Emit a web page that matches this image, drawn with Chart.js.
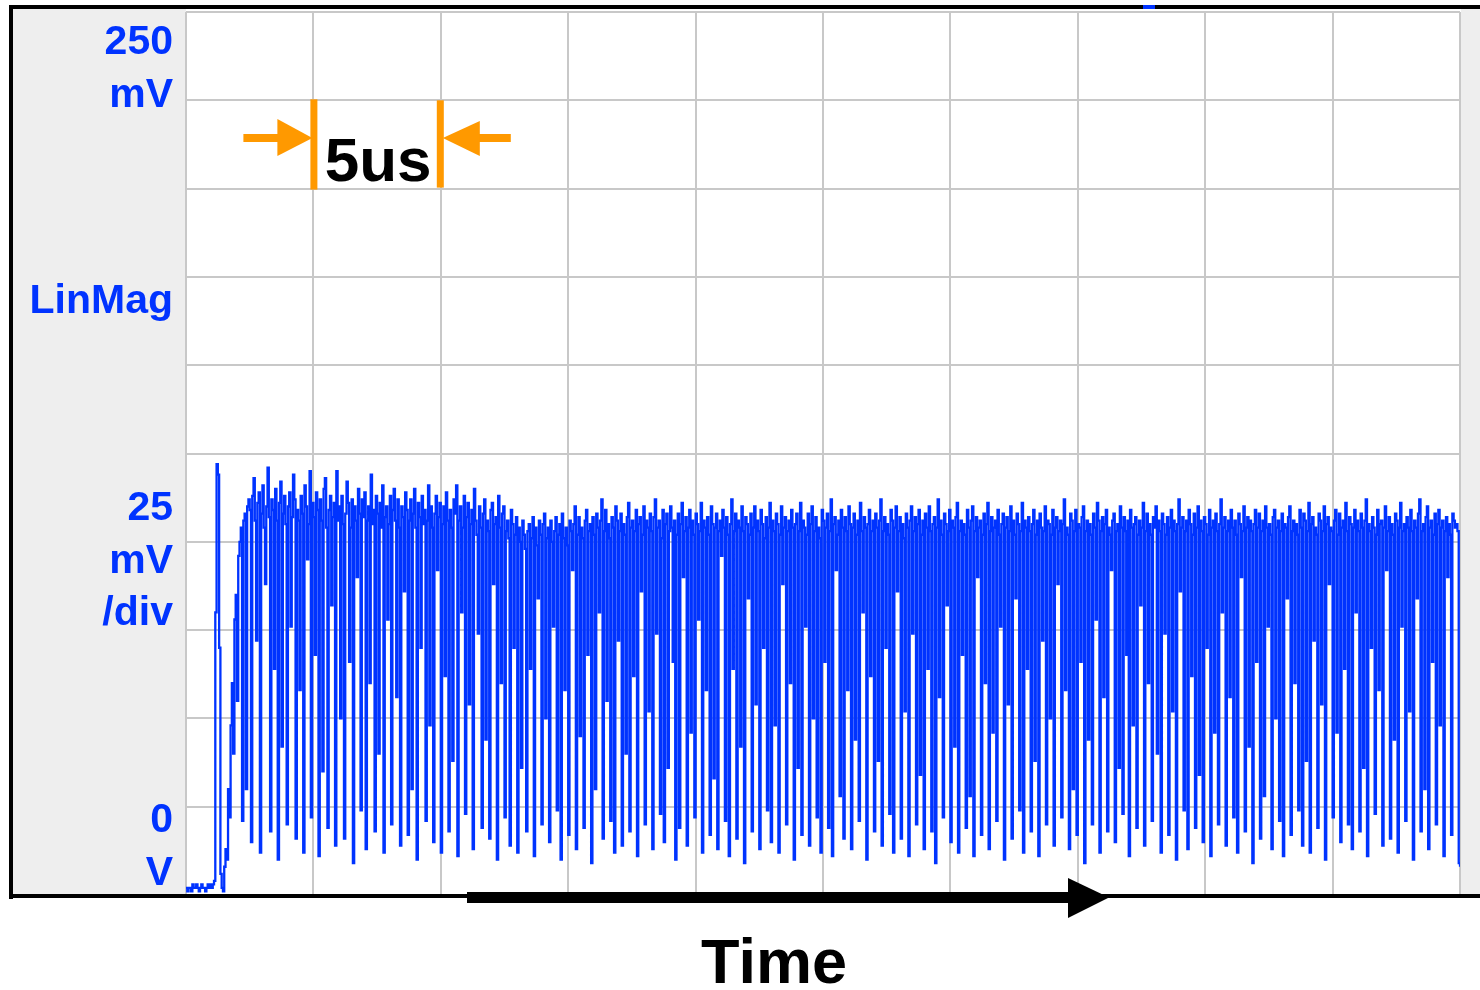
<!DOCTYPE html>
<html>
<head>
<meta charset="utf-8">
<script src="https://cdn.jsdelivr.net/npm/chart.js@4.4.1/dist/chart.umd.min.js"></script>
<style>
  html, body { margin: 0; padding: 0; background: #fff; }
  #wrap { width: 1480px; height: 990px; }
</style>
</head>
<body>
<div id="wrap"><canvas id="scope" width="1480" height="990"></canvas></div>
<script>
// sample interval of the trace, in microseconds
var sampleStep = 0.05;

// grid divisions: 5 us/div across, 25 mV/div up
var timeDivs = [0, 5, 10, 15, 20, 25, 30, 35, 40, 45, 50];
var levelDivs = [0, 25, 50, 75, 100, 125, 150, 175, 200, 225, 250];

// text on the left strip
var scaleTop = ['250', 'mV'];
var scaleName = ['LinMag'];
var scaleDiv = ['25', 'mV', '/div'];
var scaleZero = ['0', 'V'];
var spanLabel = '5us';
var axisLabel = 'Time';

// trace, mV per sample
var traceMv = [
  2, 1, 2, 2, 1, 3, 2, 2, 3, 2, 1, 2, 3, 2, 2, 1, 2, 3, 2, 3,
  2, 3, 4, 80, 122, 119, 70, 6, 2, 1, 8, 13, 10, 30, 22, 48, 60, 40, 78, 85,
  55, 96, 100, 104, 21, 106, 108, 30, 110, 112, 109, 15, 113, 118, 106, 72, 111, 114, 12, 108,
  116, 104, 88, 110, 121, 107, 18, 112, 109, 64, 115, 106, 10, 111, 117, 42, 108, 113, 105, 20,
  110, 114, 76, 107, 119, 112, 16, 109, 106, 58, 113, 108, 12, 116, 110, 95, 105, 120, 22, 111,
  107, 68, 114, 109, 11, 112, 106, 35, 115, 118, 104, 19, 109, 113, 82, 107, 111, 14, 120, 106,
  110, 50, 113, 105, 16, 108, 117, 111, 66, 104, 112, 9, 110, 106, 90, 115, 108, 24, 112, 107,
  114, 13, 106, 110, 60, 119, 105, 109, 18, 113, 108, 40, 111, 104, 116, 12, 107, 110, 78, 105,
  113, 20, 109, 115, 106, 56, 112, 104, 14, 110, 107, 86, 114, 109, 17, 106, 112, 30, 108, 115,
  104, 10, 111, 107, 70, 113, 105, 109, 21, 106, 116, 48, 110, 104, 15, 108, 113, 92, 107, 111,
  12, 105, 110, 62, 114, 106, 18, 109, 104, 38, 112, 108, 116, 11, 106, 110, 80, 104, 113, 23,
  107, 111, 54, 105, 109, 13, 115, 106, 102, 74, 110, 104, 19, 108, 112, 44, 106, 103, 16, 109,
  111, 88, 105, 107, 10, 113, 104, 60, 108, 110, 22, 103, 106, 101, 14, 109, 105, 70, 102, 107,
  12, 104, 100, 36, 106, 102, 98, 18, 103, 105, 64, 101, 107, 11, 104, 99, 84, 106, 102, 20,
  105, 108, 50, 101, 104, 15, 106, 100, 76, 103, 107, 24, 102, 105, 10, 108, 101, 58, 104, 99,
  17, 106, 103, 92, 105, 110, 13, 102, 107, 45, 104, 101, 19, 106, 109, 68, 103, 105, 9, 107,
  102, 30, 108, 104, 80, 106, 112, 16, 103, 109, 55, 105, 101, 21, 107, 104, 12, 110, 106, 72,
  103, 108, 14, 105, 102, 40, 107, 111, 18, 104, 106, 62, 103, 109, 11, 105, 107, 86, 102, 110,
  20, 106, 104, 52, 108, 103, 13, 107, 112, 74, 104, 106, 23, 101, 109, 15, 105, 108, 36, 103,
  110, 104, 66, 106, 10, 102, 108, 19, 105, 111, 90, 103, 107, 14, 104, 109, 46, 106, 102, 22,
  108, 105, 78, 103, 111, 12, 106, 104, 58, 107, 102, 17, 110, 105, 33, 104, 108, 13, 103, 106,
  96, 109, 104, 21, 107, 102, 11, 105, 112, 64, 103, 108, 16, 106, 104, 42, 110, 103, 9, 107,
  105, 84, 102, 108, 18, 104, 110, 54, 106, 103, 13, 109, 105, 70, 101, 107, 24, 104, 111, 15,
  106, 103, 48, 108, 105, 12, 102, 110, 88, 104, 107, 20, 103, 106, 60, 109, 104, 10, 105, 108,
  36, 103, 111, 17, 106, 104, 76, 102, 108, 14, 105, 110, 50, 103, 107, 22, 104, 101, 12, 109,
  106, 66, 104, 108, 19, 103, 112, 11, 105, 107, 92, 102, 106, 28, 109, 104, 16, 107, 103, 58,
  110, 105, 13, 104, 108, 44, 102, 106, 21, 111, 103, 80, 107, 104, 10, 105, 109, 62, 103, 106,
  18, 108, 104, 38, 106, 112, 14, 103, 107, 70, 105, 102, 23, 109, 106, 12, 104, 110, 86, 103,
  107, 16, 105, 101, 52, 108, 104, 11, 106, 110, 74, 103, 107, 20, 105, 109, 34, 102, 106, 13,
  108, 104, 64, 110, 103, 18, 105, 107, 9, 104, 112, 56, 106, 102, 22, 108, 105, 82, 103, 109,
  15, 106, 104, 42, 107, 111, 12, 103, 106, 68, 105, 102, 19, 109, 104, 28, 106, 110, 11, 103,
  107, 90, 104, 106, 17, 102, 108, 60, 105, 111, 13, 103, 107, 46, 104, 106, 21, 109, 102, 76,
  105, 108, 10, 104, 107, 54, 103, 110, 16, 106, 102, 84, 108, 105, 24, 103, 111, 12, 106, 104,
  64, 107, 103, 18, 105, 109, 38, 102, 106, 11, 108, 104, 72, 103, 110, 20, 106, 105, 50, 102,
  109, 14, 104, 107, 88, 103, 106, 22, 105, 112, 58, 104, 102, 13, 108, 106, 30, 103, 109, 17,
  105, 104, 66, 107, 110, 9, 103, 106, 44, 105, 102, 20, 108, 104, 78, 111, 106, 12, 103, 107,
  56, 105, 109, 18, 104, 102, 92, 106, 108, 15, 103, 105, 36, 110, 104, 23, 107, 103, 68, 106,
  11, 109, 104, 48, 105, 107, 19, 102, 106, 82, 104, 111, 14, 103, 108, 60, 105, 102, 21, 107,
  104, 110, 40, 106, 103, 12, 108, 105, 74, 102, 107, 17, 104, 109, 52, 106, 103, 10, 105, 112,
  86, 104, 107, 24, 103, 106, 13, 109, 105, 62, 102, 108, 19, 104, 110, 34, 106, 103, 15, 107,
  105, 70, 102, 109, 11, 104, 106, 46, 108, 103, 20, 105, 112, 80, 104, 107, 14, 103, 106, 56,
  109, 104, 22, 106, 102, 12, 108, 105, 90, 103, 110, 18, 104, 107, 42, 106, 103, 9, 105, 109,
  66, 104, 108, 16, 103, 106, 28, 110, 104, 76, 105, 102, 13, 107, 109, 50, 104, 106, 21, 103,
  108, 11, 105, 104, 84, 107, 110, 17, 103, 106, 60, 105, 102, 24, 109, 104, 14, 108, 106, 38,
  103, 111, 12, 105, 107, 72, 104, 102, 19, 108, 106, 54, 103, 110, 10, 105, 107, 88, 104, 103,
  22, 106, 109, 46, 102, 108, 15, 104, 106, 64, 111, 103, 20, 107, 105, 13, 104, 109, 80, 106,
  103, 18, 108, 104, 36, 106, 112, 11, 105, 103, 70, 107, 104, 23, 102, 109, 58, 105, 106, 14,
  104, 110, 92, 103, 107, 16, 105, 102, 44, 108, 106, 12, 104, 111, 76, 103, 105, 21, 107, 104,
  52, 109, 103, 10, 106, 104, 84, 108, 112, 18, 103, 105, 30, 107, 110, 13, 104, 106, 66, 102,
  108, 20, 105, 109, 48, 104, 106, 11, 103, 107, 90, 105, 102, 17, 108, 106, 104, 105, 103, 9,
  8
];

var BLUE = '#0033ff';
var ORANGE = '#ff9900';

var points = traceMv.map(function(v, i) {
  return { x: Math.round(i * sampleStep * 100) / 100, y: v };
});

var scopeDecor = {
  id: 'scopeDecor',
  beforeDraw: function(chart) {
    var ctx = chart.ctx;
    var a = chart.chartArea;
    ctx.save();
    ctx.fillStyle = '#ffffff';
    ctx.fillRect(0, 0, chart.width, chart.height);
    ctx.fillStyle = '#eeeeee';
    ctx.fillRect(13, 9, a.left - 13, a.bottom - 9);
    ctx.fillRect(a.right + 1, 9, chart.width - a.right - 1, a.bottom - 9);
    ctx.restore();
  },
  afterDraw: function(chart) {
    var ctx = chart.ctx;
    var a = chart.chartArea;
    var xs = chart.scales.x;
    var ys = chart.scales.y;
    ctx.save();

    // frame
    ctx.fillStyle = '#000';
    ctx.fillRect(9, 5, chart.width - 9, 4);
    ctx.fillRect(9, 5, 4, a.bottom - 1);
    ctx.fillRect(9, a.bottom - 1, chart.width - 9, 4);

    // little marker on the top edge
    ctx.fillStyle = BLUE;
    ctx.fillRect(1143, 5, 12, 4);

    // left strip labels
    ctx.fillStyle = BLUE;
    ctx.font = 'bold 41px "Liberation Sans", Arial, sans-serif';
    ctx.textAlign = 'right';
    ctx.textBaseline = 'alphabetic';
    var groups = [[scaleTop, 54], [scaleName, 313], [scaleDiv, 520], [scaleZero, 832]];
    groups.forEach(function(g) {
      g[0].forEach(function(t, k) {
        ctx.fillText(t, 173, g[1] + k * 52.5);
      });
    });

    // 5us marker between two grid lines
    var x1 = xs.getPixelForValue(timeDivs[1]);
    var x2 = xs.getPixelForValue(timeDivs[2]);
    var yTop = ys.getPixelForValue(levelDivs[9]);
    var yBot = ys.getPixelForValue(levelDivs[8]);
    var ay = 138;
    ctx.fillStyle = ORANGE;
    ctx.fillRect(x1 - 3, yTop - 1, 7, yBot - yTop + 2);
    ctx.fillRect(x2 - 4, yTop, 7, yBot - yTop - 1);
    ctx.fillRect(x1 - 70, ay - 4, 38, 8);
    ctx.beginPath();
    ctx.moveTo(x1 - 36, ay - 19);
    ctx.lineTo(x1 - 1, ay);
    ctx.lineTo(x1 - 36, ay + 18);
    ctx.closePath();
    ctx.fill();
    ctx.fillRect(x2 + 36, ay - 4, 34, 8);
    ctx.beginPath();
    ctx.moveTo(x2 + 39, ay - 17);
    ctx.lineTo(x2 + 2, ay);
    ctx.lineTo(x2 + 39, ay + 18);
    ctx.closePath();
    ctx.fill();

    ctx.fillStyle = '#000';
    ctx.font = 'bold 62px "Liberation Sans", Arial, sans-serif';
    ctx.textAlign = 'center';
    ctx.fillText(spanLabel, (x1 + x2) / 2 + 1, 181);

    // time arrow
    ctx.fillRect(467, 892, 605, 11);
    ctx.beginPath();
    ctx.moveTo(1068, 878);
    ctx.lineTo(1109, 897.5);
    ctx.lineTo(1068, 918);
    ctx.closePath();
    ctx.fill();
    ctx.font = 'bold 63px "Liberation Sans", Arial, sans-serif';
    ctx.fillText(axisLabel, 774, 983);

    ctx.restore();
  }
};

var config = {
  type: 'line',
  data: {
    datasets: [
      {
        data: points,
        borderColor: BLUE,
        borderWidth: 2.3,
        pointRadius: 0,
        stepped: true,
        fill: false
      }
    ]
  },
  options: {
    responsive: false,
    animation: false,
    devicePixelRatio: 1,
    layout: {
      padding: { left: 186, top: 12, right: 20, bottom: 95 }
    },
    plugins: {
      legend: { display: false },
      tooltip: { enabled: false }
    },
    scales: {
      x: {
        type: 'linear',
        min: 0,
        max: 50,
        afterBuildTicks: function(scale) {
          scale.ticks = timeDivs.map(function(v) { return { value: v }; });
        },
        ticks: { display: false },
        border: { display: false },
        grid: { color: '#c8c8c8', lineWidth: 2, drawTicks: false }
      },
      y: {
        type: 'linear',
        min: 0,
        max: 250,
        afterBuildTicks: function(scale) {
          scale.ticks = levelDivs.map(function(v) { return { value: v }; });
        },
        ticks: { display: false },
        border: { display: false },
        grid: { color: '#c8c8c8', lineWidth: 2, drawTicks: false }
      }
    }
  },
  plugins: [scopeDecor]
};

var ctx = document.getElementById('scope').getContext('2d');
var scopeChart = new Chart(ctx, config);
</script>
</body>
</html>
